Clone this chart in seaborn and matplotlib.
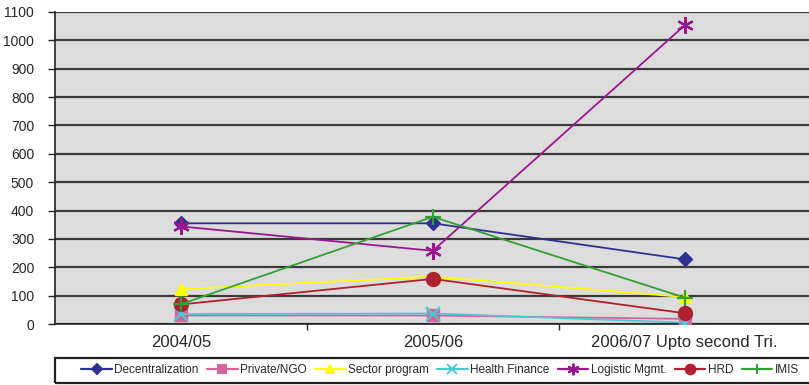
import matplotlib
matplotlib.use("Agg")
import matplotlib.pyplot as plt
from matplotlib.patches import Rectangle
from matplotlib.lines import Line2D
import seaborn as sns
import pandas as pd

# Fiscal periods on the x axis
periods = ["2004/05", "2005/06", "2006/07 Upto second Tri."]

# Values per programme component
decentralization = [355, 355, 228]
private_ngo = [30, 30, 18]
sector_program = [123, 167, 95]
health_finance = [35, 37, 5]
logistic_mgmt = [344, 258, 1053]
hrd = [69, 159, 38]
imis = [70, 378, 93]

series_names = ["Decentralization", "Private/NGO", "Sector program", "Health Finance",
                "Logistic Mgmt.", "HRD", "IMIS"]
series_values = [decentralization, private_ngo, sector_program, health_finance,
                 logistic_mgmt, hrd, imis]

y_ticks = list(range(0, 1101, 100))

rows = []
for name, vals in zip(series_names, series_values):
    for i, v in enumerate(vals):
        rows.append({"pos": i, "series": name, "value": v})
df = pd.DataFrame(rows)

palette = {
    "Decentralization": "#2E3192",
    "Private/NGO": "#D2649A",
    "Sector program": "#FFFF00",
    "Health Finance": "#4CC8D2",
    "Logistic Mgmt.": "#9B168E",
    "HRD": "#B0202E",
    "IMIS": "#33A033",
}
markers = {
    "Decentralization": "D",
    "Private/NGO": "s",
    "Sector program": "^",
    "Health Finance": "x",
    "Logistic Mgmt.": (6, 2, 0),
    "HRD": "o",
    "IMIS": "+",
}
msizes = {
    "Decentralization": 7, "Private/NGO": 8, "Sector program": 9,
    "Health Finance": 10, "Logistic Mgmt.": 12, "HRD": 10, "IMIS": 11,
}

sns.set_theme(style="white")
plt.rcParams["font.family"] = ["Liberation Sans", "DejaVu Sans"]

fig = plt.figure(figsize=(8.09, 3.85), dpi=100)
ax = fig.add_axes([55 / 809, 1 - 324 / 385, 1 - 55 / 809 + 0.002, (324 - 12) / 385])
ax.set_facecolor("#DCDCDC")

for name in series_names:
    sub = df[df["series"] == name]
    sns.lineplot(data=sub, x="pos", y="value", color=palette[name],
                 marker=markers[name], markersize=msizes[name],
                 markerfacecolor=palette[name], markeredgecolor=palette[name],
                 markeredgewidth=1.6 if name in ("Health Finance", "Logistic Mgmt.", "IMIS") else 1.0,
                 linewidth=1.3, ax=ax, zorder=3)

ax.set_xlim(-0.5, 2.5)
ax.set_ylim(0, 1100)
ax.set_yticks(y_ticks)
ax.set_yticklabels([str(t) for t in y_ticks], fontsize=10)
ax.set_xticks(range(len(periods)))
ax.set_xticklabels(periods, fontsize=12)
ax.set_xticks([0.5, 1.5], minor=True)
ax.tick_params(axis="x", which="major", length=0, pad=8)
ax.tick_params(axis="x", which="minor", length=4, width=1, color="#222222", direction="out", bottom=True)
ax.tick_params(axis="y", length=5, width=1, color="#222222", direction="out", pad=10, left=True)
ax.set_xlabel("")
ax.set_ylabel("")

ax.yaxis.grid(True, color="#3A3A3A", linewidth=1.6, zorder=1)
ax.set_axisbelow(True)
for side in ("top", "right"):
    ax.spines[side].set_visible(False)
for side in ("left", "bottom"):
    ax.spines[side].set_visible(True)
    ax.spines[side].set_color("#222222")
    ax.spines[side].set_linewidth(1.2)

# legend below the axis with a plain rectangular frame
handles = [Line2D([0], [0], color=palette[n], marker=markers[n], lw=1.6,
                  markersize=msizes[n] * 0.7, markerfacecolor=palette[n],
                  markeredgecolor=palette[n], markeredgewidth=1.4)
           for n in series_names]
leg = fig.legend(handles, series_names, loc="center", ncol=7,
                 bbox_to_anchor=(440 / 809, 1 - 370 / 385),
                 frameon=False, handlelength=2.6, handletextpad=0.2,
                 columnspacing=0.7, prop={"family": "Liberation Sans", "size": 8.5})
fig.patches.append(Rectangle((55 / 809, 2 / 385), 1.0, 25 / 385, transform=fig.transFigure,
                             fill=False, edgecolor="#222222", linewidth=1.6))

fig.savefig("out.png", dpi=100)
